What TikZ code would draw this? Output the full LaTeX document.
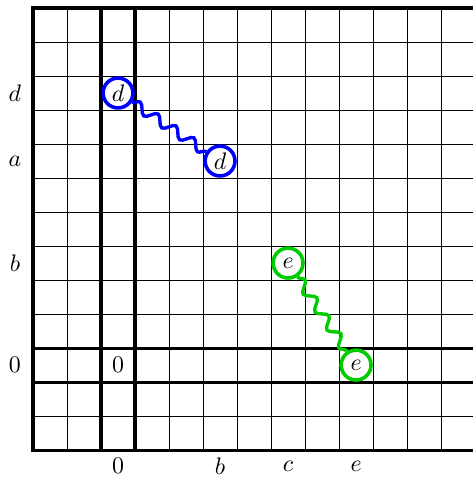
\documentclass[tikz,border=0pt]{standalone}
\usetikzlibrary{decorations.pathmorphing}
\definecolor{vertvif}{RGB}{0,204,0}
\tikzset{
  pion/.style={circle, draw, line width=1.5pt, fill=white, inner sep=0pt, minimum size=12.5pt},
  ressort/.style={decorate, decoration={snake, amplitude=2pt, segment length=9pt}, line width=1.4pt},
  bord/.style={line width=1.3pt}
}
\begin{document}
\begin{tikzpicture}[x=0.5cm, y=0.5cm]
  \useasboundingbox (-0.97,-0.82) rectangle (12.91,13.235);

  % Quadrillage
  \draw[line width=0.4pt, step=0.5cm] (0,0) grid (13,13);

  % Bords et ligne/colonne du zéro
  \draw[bord] (13,13) -- (0,13) -- (0,0) -- (13,0);
  \draw[bord] (2,0) -- (2,13) (3,0) -- (3,13);
  \draw[bord] (0,2) -- (13,2) (0,3) -- (13,3);

  % Étiquettes des lignes
  \node (yd) at (-0.53,10.5) {$d$};
  \node (ya) at (-0.53,8.5) {$a$};
  \node (yb) at (-0.53,5.5) {$b$};
  \node (y0) at (-0.53,2.5) {$0$};

  % Étiquettes des colonnes
  \node (x0) at (2.5,-0.47) {$0$};
  \node (xb) at (5.5,-0.47) {$b$};
  \node (xc) at (7.5,-0.47) {$c$};
  \node (xe) at (9.5,-0.47) {$e$};

  % Case du zéro
  \node (z0) at (2.5,2.5) {$0$};

  % Pions et ressorts
  \node[pion, draw=blue] (d1) at (2.5,10.5) {$d$};
  \node[pion, draw=blue] (d2) at (5.5,8.5) {$d$};
  \node[pion, draw=vertvif] (e1) at (7.5,5.5) {$e$};
  \node[pion, draw=vertvif] (e2) at (9.5,2.5) {$e$};
  \draw[ressort, blue] (d1) -- (d2);
  \draw[ressort, vertvif] (e1) -- (e2);

\end{tikzpicture}
\end{document}
